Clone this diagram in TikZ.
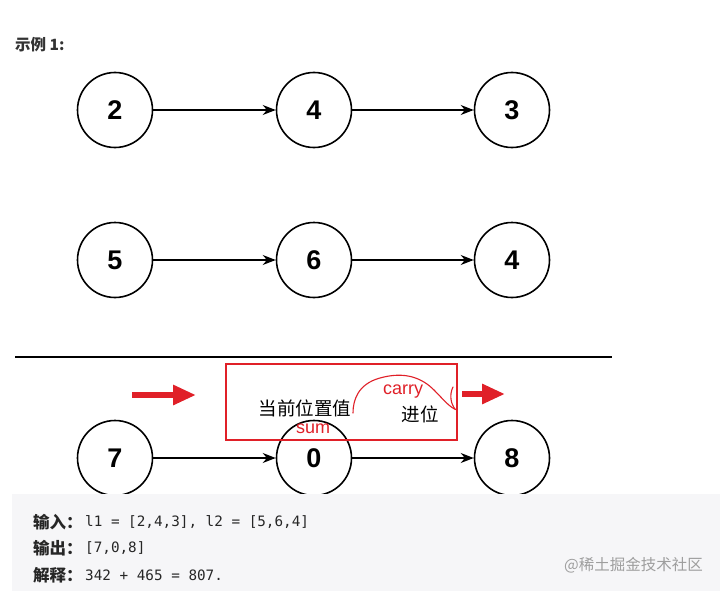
\documentclass[tikz,border=0pt]{standalone}
\usepackage{fontspec}
\setmainfont{Liberation Sans}
\setmonofont{DejaVu Sans Mono}
\newfontfamily\cjk{Noto Sans CJK SC}
\newfontfamily\codefont{DejaVu Sans Mono}
\usetikzlibrary{arrows.meta}
\definecolor{redmark}{RGB}{224,32,40}
\definecolor{panelgray}{RGB}{246,246,248}
\tikzset{
  listnode/.style={circle,draw=black,line width=1.6pt,minimum size=75pt,inner sep=0pt,font=\fontsize{27}{27}\selectfont\bfseries},
  linkarrow/.style={line width=1.5pt,-{Stealth[length=13pt,width=10pt]}},
  redarrow/.style={redmark,line width=6pt,-{Triangle[length=23pt,width=19pt]}},
  redtext/.style={text=redmark,font=\fontsize{18}{18}\selectfont,inner sep=0pt},
  cjktext/.style={font=\cjk\fontsize{18.5}{18.5}\selectfont,inner sep=0pt},
  codeline/.style={anchor=west,inner sep=0pt,text=black!85,font=\codefont\fontsize{14.3}{17}\selectfont},
  codelabel/.style={anchor=west,inner sep=0pt,text=black!85,font=\cjk\bfseries\fontsize{16.5}{17}\selectfont}
}
\begin{document}
\begin{tikzpicture}[x=1pt,y=-1pt]
\useasboundingbox (0,0) rectangle (720,591);
\fill[white] (0,0) rectangle (720,591);
% title
\node[anchor=west,inner sep=0pt,text=black!80,font=\cjk\fontsize{15.5}{15.5}\selectfont\bfseries] (title) at (15,45) {示例 1:};
% row 1
\node[listnode] (a1) at (115,110) {2};
\node[listnode] (a2) at (314,110) {4};
\node[listnode] (a3) at (512,110) {3};
\draw[linkarrow] (a1) -- (a2);
\draw[linkarrow] (a2) -- (a3);
% row 2
\node[listnode] (b1) at (115,260) {5};
\node[listnode] (b2) at (314,260) {6};
\node[listnode] (b3) at (512,260) {4};
\draw[linkarrow] (b1) -- (b2);
\draw[linkarrow] (b2) -- (b3);
% separator
\coordinate (sepL) at (15,357);
\coordinate (sepR) at (612,357);
\draw[line width=2pt] (sepL) -- (sepR);
% row 3
\node[listnode] (c1) at (115,458) {7};
\node[listnode] (c2) at (314,458) {0};
\node[listnode] (c3) at (512,458) {8};
\draw[linkarrow] (c1) -- (c2);
\draw[linkarrow] (c2) -- (c3);
% red annotations
\node[draw=redmark,line width=1.2pt,minimum width=231pt,minimum height=76pt,inner sep=0pt] (box) at (341.5,402) {};
\coordinate (la0) at (132,395);
\coordinate (la1) at (196,395);
\draw[redarrow] (la0) -- (la1);
\coordinate (ra0) at (462,394);
\coordinate (ra1) at (505,394);
\draw[redarrow] (ra0) -- (ra1);
\node[cjktext] (cur) at (305,408) {当前位置值};
\node[redtext] (sum) at (313,429) {sum};
\node[redtext] (carry) at (403,392) {carry};
\node[cjktext] (jin) at (420,414) {进位};
\draw[redmark,line width=1.1pt,line cap=round]
  (353,413) .. controls (353,400) and (358,384) .. (380,378)
  .. controls (405,371) and (422,378) .. (434,390)
  .. controls (443,399) and (450,408) .. (457,410);
\draw[redmark,line width=1.1pt,line cap=round]
  (453,387) .. controls (449,395) and (451,404) .. (455,409);
% bottom panel
\fill[panelgray] (12,494) rectangle (720,591);
\node[codelabel] (k1) at (33,522) {输入：};
\node[codeline] (l1) at (85,522) {l1 = [2,4,3], l2 = [5,6,4]};
\node[codelabel] (k2) at (33,548) {输出：};
\node[codeline] (l2) at (85,548) {[7,0,8]};
\node[codelabel] (k3) at (33,575) {解释：};
\node[codeline] (l3) at (85,575) {342 + 465 = 807.};
\node[anchor=east,inner sep=0pt,text=black!38,font=\cjk\fontsize{15.5}{15.5}\selectfont] (wm) at (703,565) {@稀土掘金技术社区};
\end{tikzpicture}
\end{document}
